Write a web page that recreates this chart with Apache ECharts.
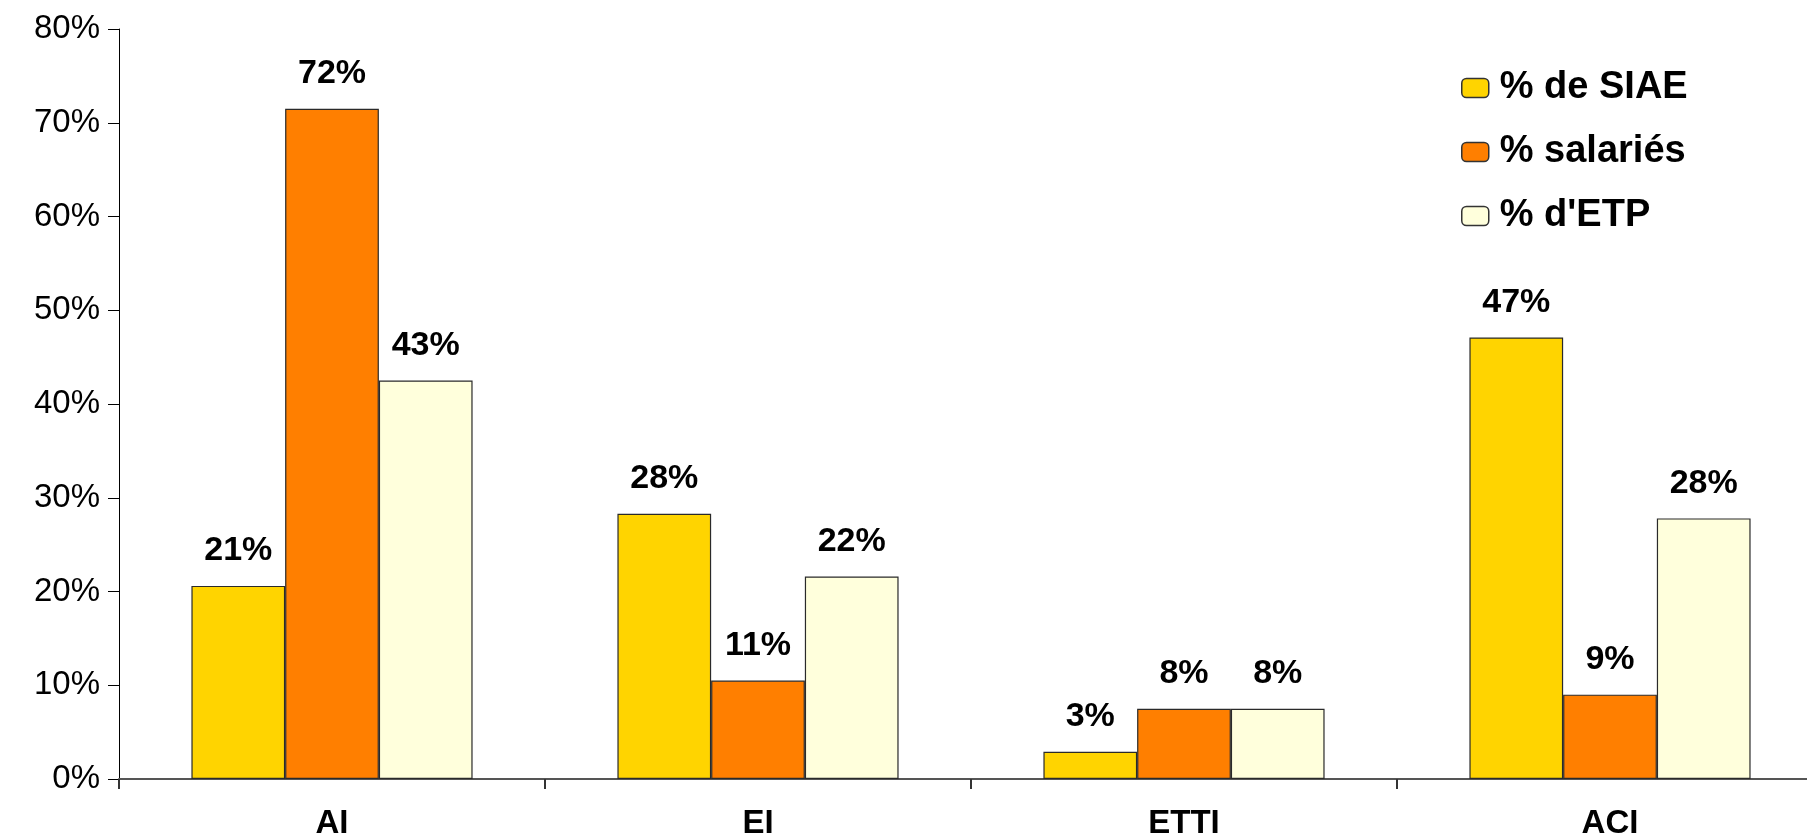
<!DOCTYPE html>
<html>
<head>
<meta charset="utf-8">
<script src="https://cdn.jsdelivr.net/npm/echarts@6/dist/echarts.min.js"></script>
<style>
  html, body { margin: 0; padding: 0; background: #ffffff; }
  #chart { width: 1807px; height: 837px; }
</style>
</head>
<body>
<div id="chart"></div>
<script>
// categories and series (percent)
var categories = ['AI', 'EI', 'ETTI', 'ACI'];
var siae = [20.6, 28.3, 2.9, 47.1];
var salaries = [71.5, 10.5, 7.5, 9.0];
var etp = [42.5, 21.6, 7.5, 27.8];
var yTicks = [0, 10, 20, 30, 40, 50, 60, 70, 80];

var colors = ['#FFD400', '#FF7F00', '#FFFFDC'];

var chart = echarts.init(document.getElementById('chart'));

function barSeries(name, data, color) {
  return {
    name: name,
    type: 'bar',
    data: data,
    barGap: '0%',
    barCategoryGap: '34%',
    itemStyle: { color: color, borderColor: '#2a2a2a', borderWidth: 1.2 },
    label: {
      show: true,
      position: 'top',
      distance: 18,
      formatter: function (p) { return Math.round(p.value) + '%'; },
      fontFamily: 'Liberation Sans, Arial',
      fontWeight: 'bold',
      fontSize: 34,
      color: '#000'
    }
  };
}

var option = {
  animation: false,
  backgroundColor: '#ffffff',
  grid: { left: 119, right: -16, top: 29, bottom: 58, containLabel: false, outerBoundsMode: 'none' },
  legend: {
    orient: 'vertical',
    left: 1456,
    top: 64,
    itemWidth: 27,
    itemHeight: 19,
    itemGap: 26,
    itemStyle: { borderColor: '#333', borderWidth: 1.5 },
    textStyle: { fontFamily: 'Liberation Sans, Arial', fontWeight: 'bold', fontSize: 38, color: '#000', padding: [0, 0, 0, 6] },
    data: ['% de SIAE', '% salariés', "% d'ETP"]
  },
  xAxis: {
    type: 'category',
    data: categories,
    axisLine: { lineStyle: { color: '#555', width: 2 } },
    axisTick: { show: true, length: 10, lineStyle: { color: '#333', width: 2 } },
    axisLabel: {
      margin: 28,
      fontFamily: 'Liberation Sans, Arial',
      fontWeight: 'bold',
      fontSize: 33,
      color: '#000'
    }
  },
  yAxis: {
    type: 'value',
    min: yTicks[0],
    max: yTicks[yTicks.length - 1],
    interval: 10,
    splitLine: { show: false },
    axisLine: { show: true, lineStyle: { color: '#000', width: 1 } },
    axisTick: { show: true, length: 11, lineStyle: { color: '#000' } },
    axisLabel: {
      margin: 19,
      formatter: '{value}%',
      fontFamily: 'Liberation Sans, Arial',
      fontSize: 33,
      color: '#000'
    }
  },
  series: [
    barSeries('% de SIAE', siae, colors[0]),
    barSeries('% salariés', salaries, colors[1]),
    barSeries("% d'ETP", etp, colors[2])
  ]
};

chart.setOption(option);
</script>
</body>
</html>
